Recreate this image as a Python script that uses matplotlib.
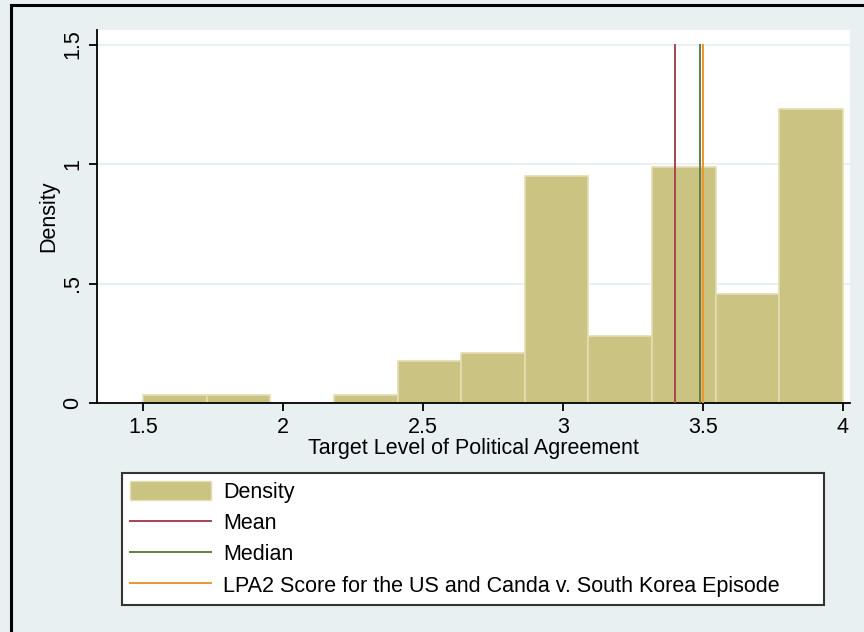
import numpy as np
import matplotlib
matplotlib.use("Agg")
import matplotlib.pyplot as plt
from matplotlib.patches import Patch
from matplotlib.lines import Line2D

plt.rcParams['font.family'] = ['Liberation Sans', 'DejaVu Sans']

# histogram: 11 equal bins from 1.5 to 4.0, density
bin_edges = np.linspace(1.5, 4.0, 12)
density = [0.035, 0.035, 0.0, 0.035, 0.176, 0.211, 0.950, 0.282, 0.986, 0.458, 1.232]

mean_val = 3.40
median_val = 3.49
lpa2_val = 3.50

xticks = [1.5, 2, 2.5, 3, 3.5, 4]
xtick_labels = ['1.5', '2', '2.5', '3', '3.5', '4']
yticks = [0, 0.5, 1, 1.5]
ytick_labels = ['0', '.5', '1', '1.5']

legend_labels = ['Density', 'Mean', 'Median',
                 'LPA2 Score for the US and Canda v. South Korea Episode']

BG = '#e8f0f2'
BAR = '#cbc382'
BAR_EDGE = '#e2ddb4'
C_MEAN = '#a4454f'
C_MEDIAN = '#5f8040'
C_LPA2 = '#ee9430'

FS = 15.5

W, H = 864, 632
fig = plt.figure(figsize=(W / 100, H / 100), dpi=100, facecolor=BG)

# outer frame (top and left edges visible in the reference)
fig.add_artist(Line2D([11 / W, 11 / W], [0, 1 - 5 / H], color='black', lw=2.2))
fig.add_artist(Line2D([11 / W, 1], [1 - 5 / H, 1 - 5 / H], color='black', lw=2.2))

ax = fig.add_axes([97 / W, 1 - 403 / H, (850 - 97) / W, (403 - 30) / H])
ax.set_facecolor('white')

widths = np.diff(bin_edges)
ax.bar(bin_edges[:-1], density, width=widths, align='edge', color=BAR,
       edgecolor=BAR_EDGE, linewidth=1.2, zorder=2)

for yv in yticks[1:]:
    ax.axhline(yv, color='#e4eef1', lw=1.2, zorder=1)

ax.axvline(mean_val, ymax=1.5 / 1.561, color=C_MEAN, lw=1.4, zorder=3)
ax.axvline(median_val, ymax=1.5 / 1.561, color=C_MEDIAN, lw=1.4, zorder=3)
ax.axvline(lpa2_val, ymax=1.5 / 1.561, color=C_LPA2, lw=1.4, zorder=3)

ax.set_xlim(1.5 + (97 - 143) / 280, 1.5 + (850 - 143) / 280)
ax.set_ylim(0, 1.561)

for s in ['top', 'right']:
    ax.spines[s].set_visible(False)
for s in ['left', 'bottom']:
    ax.spines[s].set_linewidth(1.3)

ax.set_xticks(xticks)
ax.set_xticklabels(xtick_labels, fontsize=FS)
ax.set_yticks(yticks)
ax.set_yticklabels(ytick_labels, fontsize=FS, rotation=90, va='center')
ax.tick_params(axis='both', direction='out', length=6, width=1.3, colors='black')
ax.tick_params(axis='x', pad=4)
ax.tick_params(axis='y', pad=4)

ax.set_xlabel('Target Level of Political Agreement', fontsize=FS, labelpad=0)
ax.set_ylabel('Density', fontsize=FS, labelpad=2)

handles = [Patch(facecolor=BAR, edgecolor=BAR_EDGE),
           Line2D([], [], color=C_MEAN, lw=1.4),
           Line2D([], [], color=C_MEDIAN, lw=1.4),
           Line2D([], [], color=C_LPA2, lw=1.4)]
leg = fig.legend(handles, legend_labels, loc='upper left',
                 bbox_to_anchor=(122 / W, 1 - 603 / H, (824 - 122) / W, (603 - 473) / H),
                 mode='expand', fontsize=FS, frameon=True, fancybox=False,
                 edgecolor='#333333', framealpha=1, borderpad=0.35,
                 labelspacing=0.44, handlelength=3.8, handleheight=1.0,
                 handletextpad=0.56, borderaxespad=0)
leg.get_frame().set_linewidth(1.5)

fig.savefig('out.png', dpi=100, facecolor=BG)
